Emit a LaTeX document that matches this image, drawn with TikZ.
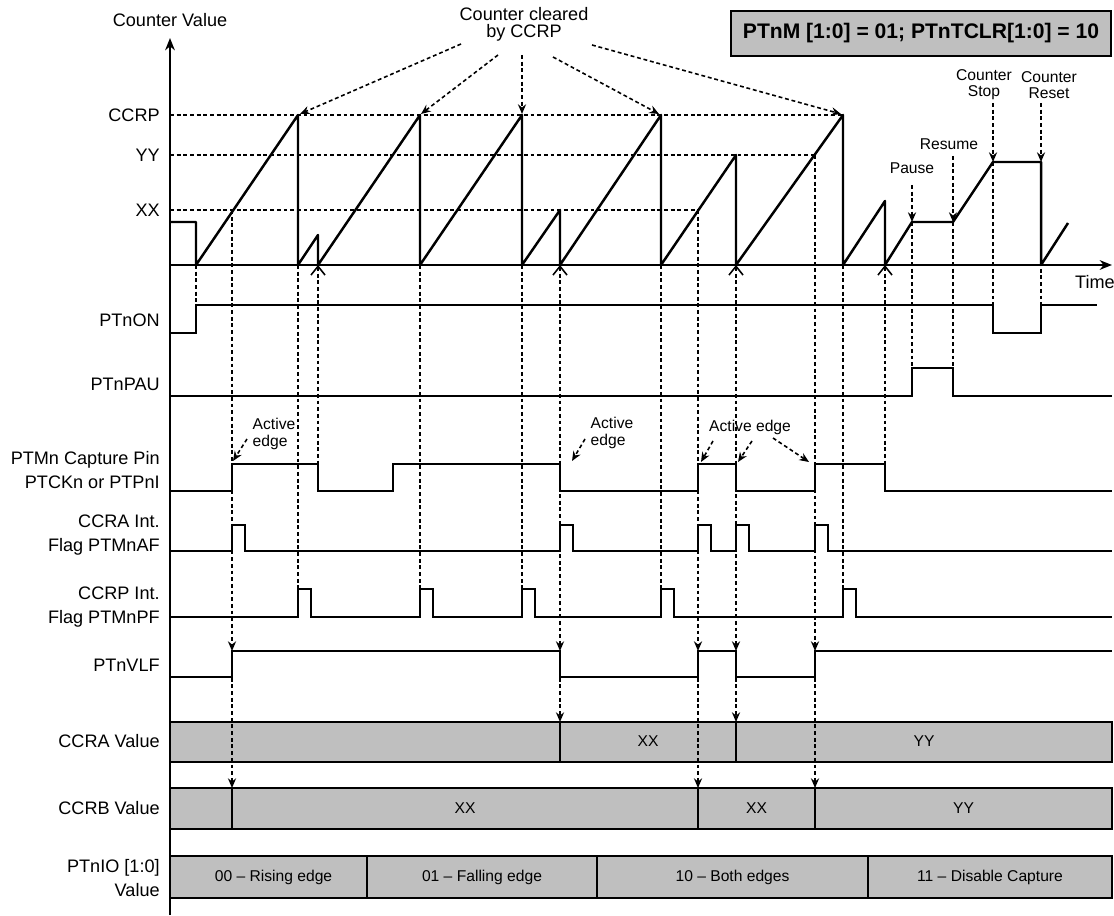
\documentclass[tikz,border=0pt]{standalone}
\usepackage{fontspec}
\setmainfont{Liberation Sans}
\usepackage{tikz}
\usetikzlibrary{arrows.meta}

\newcommand{\lblsize}{\fontsize{10.3}{13.4}\selectfont}
\newcommand{\clrsize}{\fontsize{10.3}{9.8}\selectfont}
\newcommand{\notesize}{\fontsize{8.9}{9.2}\selectfont}
\newcommand{\titlesize}{\fontsize{12}{14}\selectfont}

\begin{document}
\begin{tikzpicture}[x=0.02cm, y=-0.02cm,
  >={Stealth[length=5.5pt,width=4.6pt]},
  chev/.tip={Straight Barb[length=5pt,width=8pt]},
  sig/.style={line width=1.1pt},
  saw/.style={line width=1.4pt, line join=round},
  dots/.style={line width=0.9pt, dash pattern=on 2.2pt off 1.6pt},
  lbl/.style={anchor=east, align=right, font=\lblsize, inner sep=0pt},
  note/.style={align=left, font=\notesize, inner sep=0pt},
  valbox/.style={draw, line width=1.1pt, fill=black!25},
  boxtxt/.style={font=\notesize, inner sep=0pt}]
  \useasboundingbox (0,0) rectangle (1114,915);

  %% Mode box and counter labels
  \node[valbox, line width=1.4pt, minimum width=7.6cm, minimum height=0.9cm,
        font=\titlesize\bfseries] (mode) at (921,33.5)
        {PTnM [1:0] = 01; PTnTCLR[1:0] = 10};
  \node[font=\lblsize] (cval) at (170,20) {Counter Value};
  \node[font=\clrsize, align=center] (clr) at (524,24) {Counter cleared\\by CCRP};
  \node[font=\lblsize] (time) at (1095,282) {Time};
  \foreach \yy/\lbl in {115/CCRP, 155/YY, 210/XX}{
    \node[lbl] (lv-\lbl) at (160,\yy) {\lbl};
  }

  %% Signal names
  \node[lbl] (on)   at (160,320) {PTnON};
  \node[lbl] (pau)  at (160,384) {PTnPAU};
  \node[lbl] (pin)  at (160,470) {PTMn Capture Pin\\PTCKn or PTPnI};
  \node[lbl] (af)   at (160,535) {CCRA Int.\\Flag PTMnAF};
  \node[lbl] (pf)   at (160,607) {CCRP Int.\\Flag PTMnPF};
  \node[lbl] (vlf)  at (160,665) {PTnVLF};
  \node[lbl] (ccra) at (160,741) {CCRA Value};
  \node[lbl] (ccrb) at (160,808) {CCRB Value};
  \node[lbl] (pio)  at (160,878) {PTnIO [1:0]\\Value};

  %% Value bars
  \draw[valbox] (170,722) rectangle (1112,762);
  \draw[valbox] (170,788) rectangle (1112,829);
  \draw[valbox] (170,856) rectangle (1112,898);
  \foreach \a/\b/\t in {560/736/XX, 736/1112/YY}{
    \draw[sig] (\a,722) -- (\a,762);
    \node[boxtxt] (ra-\a) at ({(\a+\b)/2},741) {\t};
  }
  \foreach \a/\b/\t in {232/698/XX, 698/815/XX, 815/1112/YY}{
    \draw[sig] (\a,788) -- (\a,829);
    \node[boxtxt] (rb-\a) at ({(\a+\b)/2},808) {\t};
  }
  \foreach \a/\b/\t in {180/367/00 -- Rising edge, 367/597/01 -- Falling edge,
                        597/868/10 -- Both edges, 868/1112/11 -- Disable Capture}{
    \draw[sig] (\b,856) -- (\b,898);
    \node[boxtxt] (io-\a) at ({(\a+\b)/2},877) {\t};
  }

  %% Level guides
  \draw[dots] (170,115) -- (843,115);
  \draw[dots] (170,155) -- (815,155);
  \draw[dots] (170,210) -- (698,210);

  %% Dotted event lines
  \foreach \cx in {298,420,522,661,843}{
    \draw[dots] (\cx,265) -- (\cx,589);
  }
  \draw[dots] (196,265) -- (196,305);
  \draw[dots,chev-] (318,265) -- (318,464);
  \draw[dots,chev-] (885,265) -- (885,464);
  \foreach \cx/\ytop in {232/210, 698/210, 815/155}{
    \draw[dots,->] (\cx,\ytop) -- (\cx,651);
    \draw[dots,->] (\cx,651) -- (\cx,788);
  }
  \foreach \cx in {560,736}{
    \draw[dots,chev->] (\cx,265) -- (\cx,651);
    \draw[dots,->] (\cx,651) -- (\cx,722);
  }
  \foreach \cx/\ytop/\yarr/\ybot in {912/185/222/368, 953/156/222/368,
                                     993/103/162/305, 1041/103/162/305}{
    \draw[dots,->] (\cx,\ytop) -- (\cx,\yarr);
    \draw[dots] (\cx,\yarr) -- (\cx,\ybot);
  }

  %% Counter cleared by CCRP
  \foreach \sx/\sy/\px in {461/44/300, 498/55/421, 522/55/522, 553/57/659, 592/45/841}{
    \draw[dots,->] (\sx,\sy) -- (\px,114);
  }

  %% Counter events
  \node[note] (pause)  at (912,168) {Pause};
  \node[note] (resume) at (949,144) {Resume};
  \node[note, align=center] (cstop)  at (984,85) {Counter\\Stop};
  \node[note, align=center] (creset) at (1049,85) {Counter\\Reset};

  %% Active edges
  \node[note] (ae1) at (274,434) {Active\\edge};
  \node[note] (ae2) at (612,433) {Active\\edge};
  \node[note] (ae3) at (750,427) {Active edge};
  \draw[dots,->] (247,439) -- (233,461);
  \draw[dots,->] (585,439) -- (572,461);
  \draw[dots,->] (713,441) -- (701,462);
  \draw[dots,->] (752,441) -- (738,462);
  \draw[dots,->] (773,438) -- (809,462);

  %% Axes
  \draw[sig,-{Stealth[length=7pt,width=5.5pt]}] (170,915) -- (170,38);
  \draw[saw,-{Stealth[length=7pt,width=5.5pt]}] (170,265) -- (1112,265);

  %% Counter value
  \draw[saw] (170,222) -- (196,222) -- (196,265) -- (298,115) -- (298,265)
    -- (318,235) -- (318,265) -- (420,115) -- (420,265) -- (522,115) -- (522,265)
    -- (560,210) -- (560,265) -- (661,115) -- (661,265) -- (736,155) -- (736,265)
    -- (843,115) -- (843,265) -- (885,201) -- (885,265) -- (912,222) -- (953,222)
    -- (993,162) -- (1041,162) -- (1041,265) -- (1068,223);

  %% Waveforms
  \draw[sig] (170,333) -- (196,333) -- (196,305) -- (993,305) -- (993,333)
    -- (1041,333) -- (1041,305) -- (1097,305);
  \draw[sig] (170,396) -- (912,396) -- (912,368) -- (953,368) -- (953,396) -- (1112,396);
  \draw[sig] (170,491) -- (232,491) -- (232,464) -- (318,464) -- (318,491)
    -- (393,491) -- (393,464) -- (560,464) -- (560,491) -- (698,491) -- (698,464)
    -- (736,464) -- (736,491) -- (815,491) -- (815,464) -- (885,464) -- (885,491)
    -- (1112,491);
  \draw[sig] (170,551) foreach \p in {232,560,698,736,815}{
    -- (\p,551) -- (\p,525) -- ++(13,0) -- ++(0,26) } -- (1112,551);
  \draw[sig] (170,617) foreach \p in {298,420,522,661,843}{
    -- (\p,617) -- (\p,589) -- ++(13,0) -- ++(0,28) } -- (1112,617);
  \draw[sig] (170,677) -- (232,677) -- (232,651) -- (560,651) -- (560,677)
    -- (698,677) -- (698,651) -- (736,651) -- (736,677) -- (815,677) -- (815,651)
    -- (1112,651);
\end{tikzpicture}
\end{document}
